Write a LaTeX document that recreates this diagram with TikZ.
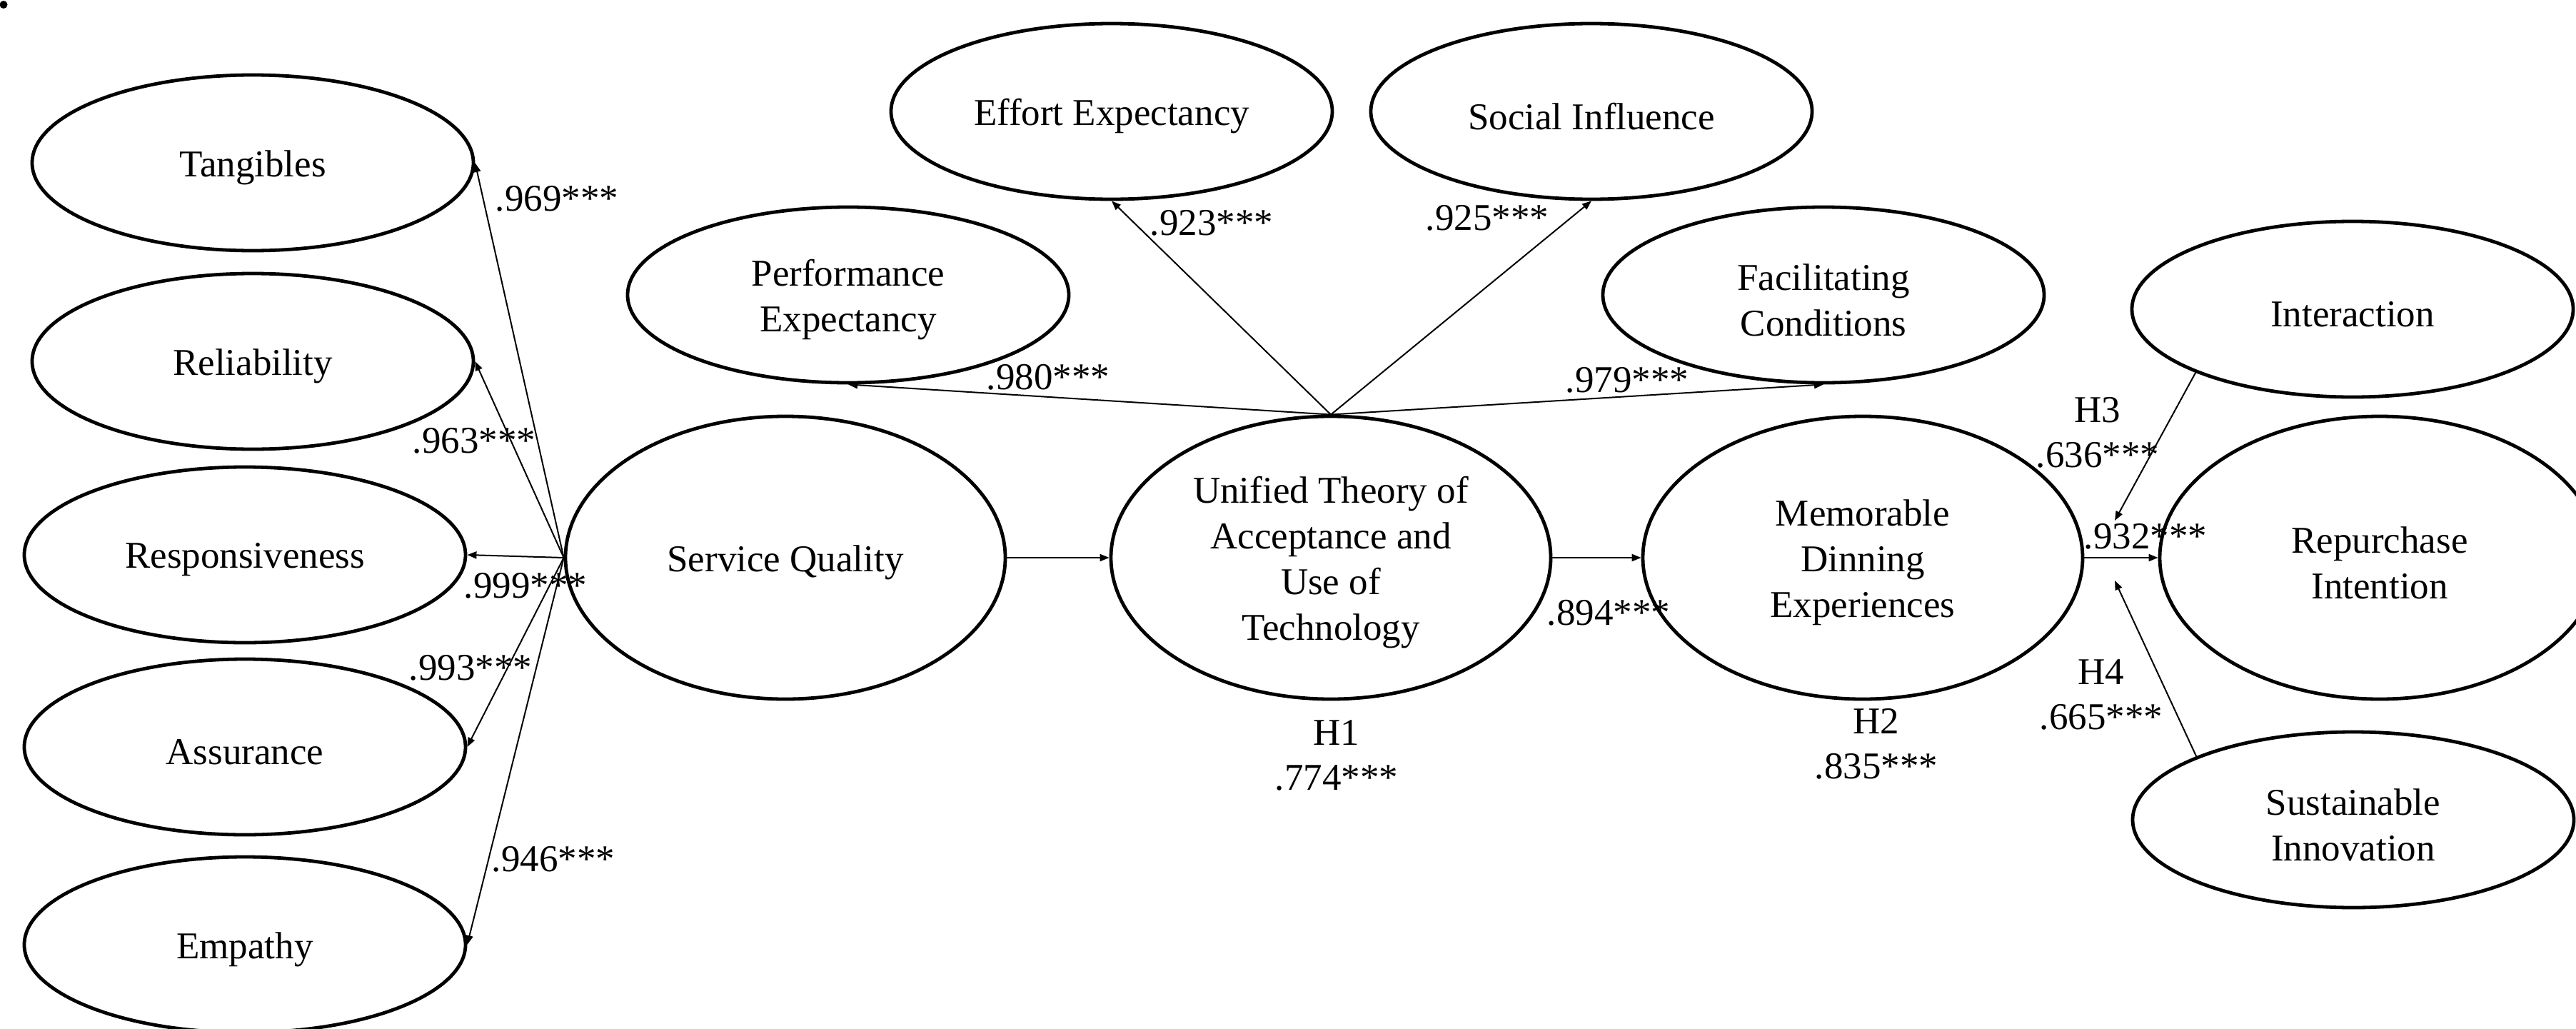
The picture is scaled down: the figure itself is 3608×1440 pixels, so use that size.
\documentclass[tikz,border=0pt]{standalone}
\usepackage{fontspec}
\setmainfont{Liberation Serif}
\usetikzlibrary{shapes.geometric,arrows.meta}

\tikzset{
  construct/.style={ellipse, draw, line width=2.4pt, inner sep=0pt},
  smallvar/.style={construct, minimum width=309pt, minimum height=123pt},
  bigvar/.style={construct, minimum width=308pt, minimum height=198pt},
  name text/.style={inner sep=0pt, align=center, yshift=-3.5pt,
    font=\fontsize{26.5}{32}\selectfont},
  path/.style={line width=1pt, -{Triangle[length=6.5pt,width=5pt]}},
  coef/.style={inner sep=0pt, align=center, font=\fontsize{26.5}{31.5}\selectfont}
}

\begin{document}
\begin{tikzpicture}[x=0.5pt,y=-0.5pt]
\useasboundingbox (0,0) rectangle (3608,1440);
\fill (5,6.5) circle (5.5);

% service quality dimensions
\node[smallvar, label={[name text]center:Tangibles}]      (tang)  at (354,228)  {};
\node[smallvar, label={[name text]center:Reliability}]    (rel)   at (354,506)  {};
\node[smallvar, label={[name text]center:Responsiveness}] (resp)  at (343,777)  {};
\node[smallvar, label={[name text]center:Assurance}]      (assur) at (343,1046) {};
\node[smallvar, label={[name text]center:Empathy}]        (emp)   at (343,1323) {};

% UTAUT dimensions
\node[smallvar, label={[name text]center:Performance\\Expectancy}] (perf)   at (1188,413) {};
\node[smallvar, label={[name text]center:Effort Expectancy}]       (effort) at (1557,156) {};
\node[smallvar, label={[name text]center:Social Influence}]        (social) at (2229,156) {};
\node[smallvar, label={[name text]center:Facilitating\\Conditions}] (facil) at (2554,413) {};

% main constructs
\node[bigvar, label={[name text]center:Service Quality}] (sq) at (1100,781) {};
\node[bigvar, label={[name text]center:Unified Theory of\\Acceptance and\\Use of\\Technology}] (ut) at (1864,781) {};
\node[bigvar, label={[name text]center:Memorable\\Dinning\\Experiences}] (mde) at (2609,781) {};
\node[bigvar, label={[name text]center:Repurchase\\Intention}] (ri) at (3333,781) {};

% moderators
\node[smallvar, label={[name text]center:Interaction}] (inter) at (3295,433) {};
\node[smallvar, label={[name text]center:Sustainable\\Innovation}] (sust) at (3296,1148) {};

\coordinate (m3) at (2962,729);
\coordinate (m4) at (2962,813);

% loadings
\foreach \t in {tang,rel,resp,assur,emp} \draw[path] (sq.west) -- (\t.east);
\foreach \t in {perf,effort,social,facil} \draw[path] (ut.north) -- (\t.south);

% structural paths
\draw[path] (sq.east) -- (ut.west);
\draw[path] (ut.east) -- (mde.west);
\draw[path] (mde.east) -- (ri.west);
\draw[path] (inter.202.6) -- (m3);
\draw[path] (sust.158.2) -- (m4);

% coefficients
\node[coef] at (780,278)  {.969***};
\node[coef] at (664,617)  {.963***};
\node[coef] at (736,820)  {.999***};
\node[coef] at (659,935)  {.993***};
\node[coef] at (775,1203) {.946***};
\node[coef] at (1468,528) {.980***};
\node[coef] at (1697,312) {.923***};
\node[coef] at (2083,305) {.925***};
\node[coef] at (2279,532) {.979***};
\node[coef] at (1872,1058) {H1\\.774***};
\node[coef] at (2253,858) {.894***};
\node[coef] at (2628,1042) {H2\\.835***};
\node[coef] at (2938,606) {H3\\.636***};
\node[coef] at (3005,751) {.932***};
\node[coef] at (2943,973) {H4\\.665***};
\end{tikzpicture}
\end{document}
